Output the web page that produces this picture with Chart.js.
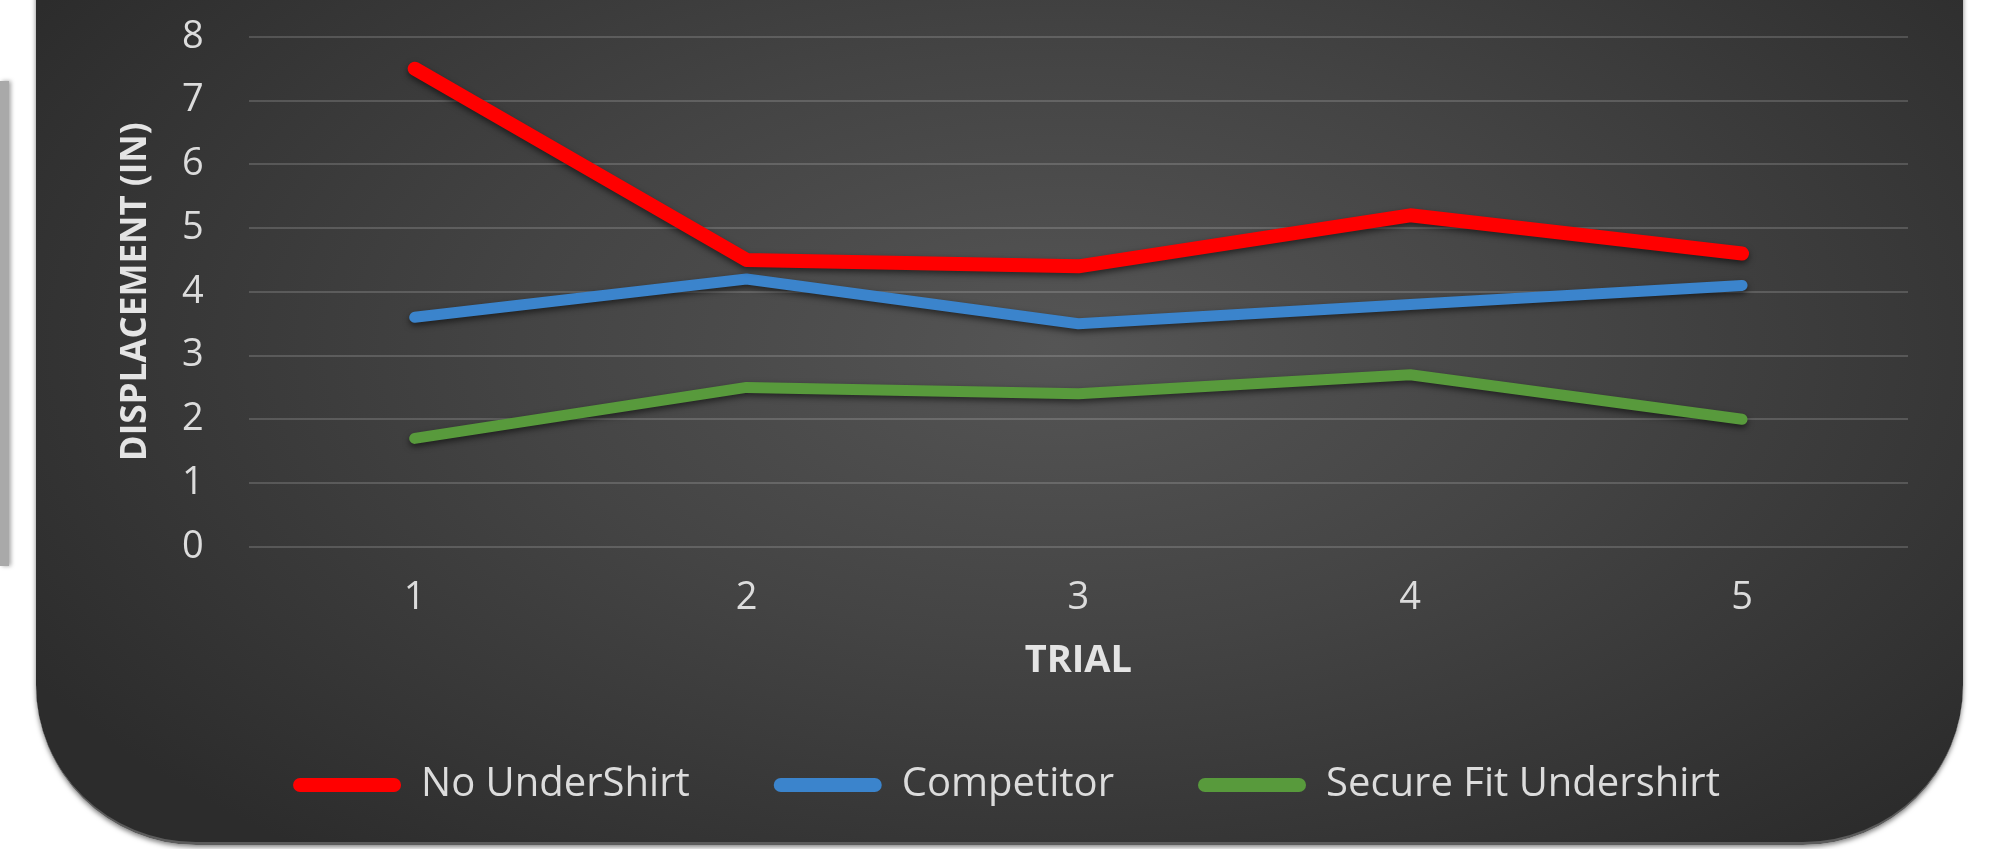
<!DOCTYPE html>
<html>
<head>
<meta charset="utf-8">
<script src="https://cdn.jsdelivr.net/npm/chart.js@4.4.1/dist/chart.umd.min.js"></script>
<style>
  html, body { margin: 0; padding: 0; background: #ffffff; }
  #wrap { position: relative; width: 1992px; height: 849px; overflow: hidden; }
  #sidebar {
    position: absolute; left: 0; top: 81px; width: 9px; height: 485px;
    background: #a9a9a9; box-shadow: 2px 0 4px rgba(0,0,0,0.35);
  }
  #card {
    position: absolute; left: 36px; top: -60px; width: 1927px; height: 902px;
    border-radius: 0 0 160px 160px;
    background: radial-gradient(ellipse 62% 72% at 53% 45%, #555555 0%, #444444 45%, #2c2c2c 100%);
    border-bottom: 3px solid #5c5c5c;
    box-shadow: 0 2px 5px rgba(0,0,0,0.5);
  }
  #holder { position: absolute; left: 0; top: 0; width: 1992px; height: 849px; }
</style>
</head>
<body>
<div id="wrap">
  <div id="sidebar"></div>
  <div id="card"></div>
  <div id="holder"><canvas id="linechart"></canvas></div>
</div>
<script>
const trials = ['1', '2', '3', '4', '5'];
const noUndershirt = [7.5, 4.5, 4.4, 5.2, 4.6];
const competitor = [3.6, 4.2, 3.5, 3.8, 4.1];
const secureFit = [1.7, 2.5, 2.4, 2.7, 2.0];

const textColor = '#dcdcdc';

// soft shadow under the lines, like the Excel style
const lineShadow = {
    id: 'lineShadow',
    beforeDatasetsDraw(chart) {
        const c = chart.ctx;
        c.save();
        c.shadowColor = 'rgba(0,0,0,0.55)';
        c.shadowBlur = 6;
        c.shadowOffsetY = 3;
    },
    afterDatasetsDraw(chart) {
        chart.ctx.restore();
    }
};

// legend sits a little left of the plot centre in the original
const legendNudge = {
    id: 'legendNudge',
    afterLayout(chart) {
        if (chart.legend) {
            chart.legend.left -= 12;
            chart.legend.right -= 12;
        }
    }
};

const ctx = document.getElementById('linechart').getContext('2d');
const myChart = new Chart(ctx, {
    type: 'line',
    data: {
        labels: trials,
        datasets: [{
            label: 'No UnderShirt',
            data: noUndershirt,
            borderColor: '#ff0000',
            backgroundColor: '#ff0000',
            borderWidth: 14
        }, {
            label: 'Competitor',
            data: competitor,
            borderColor: '#3b84cc',
            backgroundColor: '#3b84cc',
            borderWidth: 11
        }, {
            label: 'Secure Fit Undershirt',
            data: secureFit,
            borderColor: '#589a3c',
            backgroundColor: '#589a3c',
            borderWidth: 11
        }]
    },
    options: {
        responsive: true,
        maintainAspectRatio: false,
        animation: false,
        layout: {
            padding: { left: 129, right: 84, top: 7, bottom: 34 }
        },
        elements: {
            line: { tension: 0, borderCapStyle: 'round', borderJoinStyle: 'round' },
            point: { radius: 0, hoverRadius: 0 }
        },
        scales: {
            x: {
                offset: true,
                grid: { display: false, drawTicks: false },
                border: { display: false },
                ticks: {
                    color: textColor,
                    padding: 29,
                    font: { family: 'Open Sans', size: 38 }
                },
                title: {
                    display: true,
                    text: 'TRIAL',
                    color: '#e4e4e4',
                    padding: { top: -12, bottom: -3 },
                    font: { family: 'Open Sans', size: 38, weight: 'bold' }
                }
            },
            y: {
                min: 0,
                max: 8,
                grid: {
                    color: 'rgba(255,255,255,0.16)',
                    lineWidth: 2,
                    drawTicks: true,
                    tickLength: 31,
                    tickColor: 'rgba(0,0,0,0)'
                },
                border: { display: false },
                ticks: {
                    stepSize: 1,
                    color: textColor,
                    padding: 14,
                    font: { family: 'Open Sans', size: 38 }
                },
                title: {
                    display: true,
                    text: 'DISPLACEMENT (IN)',
                    color: '#e4e4e4',
                    padding: { top: 0, bottom: 25 },
                    font: { family: 'Open Sans', size: 35, weight: 'bold', lineHeight: 0.4 }
                }
            }
        },
        plugins: {
            tooltip: { enabled: false },
            legend: {
                position: 'bottom',
                labels: {
                    color: textColor,
                    boxWidth: 108,
                    boxHeight: 14,
                    padding: 84,
                    useBorderRadius: true,
                    borderRadius: 7,
                    font: { family: 'Open Sans', size: 40 },
                    generateLabels(chart) {
                        const items = Chart.defaults.plugins.legend.labels.generateLabels(chart);
                        items.forEach(function (it) {
                            it.fillStyle = it.strokeStyle;
                            it.lineWidth = 0;
                        });
                        return items;
                    }
                }
            }
        }
    },
    plugins: [lineShadow, legendNudge]
});
</script>
</body>
</html>
